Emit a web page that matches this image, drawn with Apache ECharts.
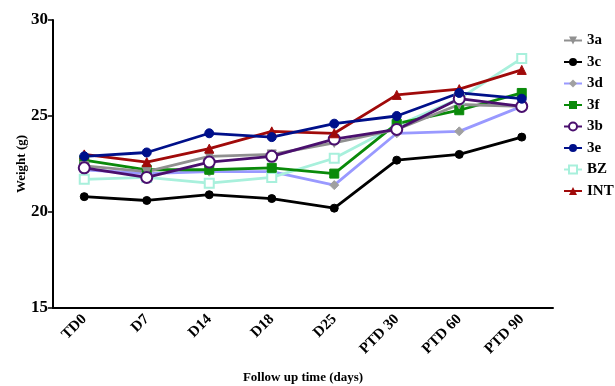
<!DOCTYPE html>
<html>
<head>
<meta charset="utf-8">
<script src="https://cdn.jsdelivr.net/npm/echarts@6/dist/echarts.min.js"></script>
<style>
  html, body { margin: 0; padding: 0; background: #fff; }
  #chart { width: 615px; height: 386px; }
</style>
</head>
<body>
<div id="chart"></div>
<script>
const days = ['TD0', 'D7', 'D14', 'D18', 'D25', 'PTD 30', 'PTD 60', 'PTD 90']
const yTicks = [15, 20, 25, 30]

const w3a = [22.4, 22.1, 22.9, 23.0, 23.6, 24.3, 25.6, 25.5]
const w3c = [20.8, 20.6, 20.9, 20.7, 20.2, 22.7, 23.0, 23.9]
const w3d = [22.2, 22.0, 22.1, 22.1, 21.4, 24.1, 24.2, 25.5]
const w3f = [22.7, 22.2, 22.2, 22.3, 22.0, 24.6, 25.3, 26.2]
const w3b = [22.3, 21.8, 22.6, 22.9, 23.8, 24.3, 25.9, 25.5]
const w3e = [22.9, 23.1, 24.1, 23.9, 24.6, 25.0, 26.2, 25.9]
const wBZ = [21.7, 21.8, 21.5, 21.8, 22.8, 24.5, 25.9, 28.0]
const wINT = [23.0, 22.6, 23.3, 24.2, 24.1, 26.1, 26.4, 27.4]

const font = 'Liberation Serif'

const chart = echarts.init(document.getElementById('chart'))

function line(name, data, color, symbol, size, extra) {
  return Object.assign({
    name: name,
    type: 'line',
    data: data,
    symbol: symbol,
    symbolSize: size,
    lineStyle: { color: color, width: 2.8 },
    itemStyle: { color: color, borderColor: color },
    z: 2
  }, extra || {})
}

chart.setOption({
  backgroundColor: '#fff',
  animation: false,
  textStyle: { fontFamily: font },
  legend: {
    orient: 'vertical',
    left: 558,
    top: 28,
    itemWidth: 18,
    itemHeight: 10,
    itemGap: 6.5,
    textStyle: { fontFamily: font, fontWeight: 'bold', fontSize: 15, color: '#000' },
    data: ['3a', '3c', '3d', '3f', '3b', '3e', 'BZ', 'INT']
  },
  grid: { left: 53, right: 62, top: 20, bottom: 78, containLabel: false, outerBoundsMode: 'none' },
  xAxis: {
    type: 'category',
    data: days,
    name: 'Follow up time (days)',
    nameLocation: 'middle',
    nameGap: 63,
    nameMoveOverlap: false,
    nameTextStyle: { fontFamily: font, fontWeight: 'bold', fontSize: 13, color: '#000' },
    axisLine: { lineStyle: { color: '#000', width: 2 } },
    axisTick: { alignWithLabel: true, length: 5, lineStyle: { color: '#000', width: 1.5 } },
    axisLabel: { rotate: 45, color: '#000', fontWeight: 'bold', fontSize: 15, fontFamily: font, margin: 9 }
  },
  yAxis: {
    type: 'value',
    min: yTicks[0],
    max: yTicks[yTicks.length - 1],
    interval: 5,
    name: 'Weight (g)',
    nameLocation: 'middle',
    nameGap: 25,
    nameMoveOverlap: false,
    nameTextStyle: { fontFamily: font, fontWeight: 'bold', fontSize: 13, color: '#000' },
    axisLine: { show: true, lineStyle: { color: '#000', width: 2 } },
    axisTick: { show: true, length: 5, lineStyle: { color: '#000', width: 1.5 } },
    axisLabel: { color: '#000', fontWeight: 'bold', fontSize: 17, fontFamily: font, margin: 5 },
    splitLine: { show: false }
  },
  series: [
    line('3c', w3c, '#000000', 'circle', 8),
    line('3d', w3d, '#9999ff', 'diamond', 9, { itemStyle: { color: '#a0a0a0', borderColor: '#a0a0a0' } }),
    line('BZ', wBZ, '#a8f0dc', 'emptyRect', 9, { itemStyle: { color: '#a8f0dc', borderColor: '#a8f0dc', borderWidth: 2 } }),
    line('3f', w3f, '#0a8a0a', 'rect', 9),
    line('3a', w3a, '#909090', 'triangle', 9, { symbolRotate: 180 }),
    line('3b', w3b, '#4a0f6e', 'emptyCircle', 11, { itemStyle: { color: '#4a0f6e', borderColor: '#4a0f6e', borderWidth: 2 } }),
    line('INT', wINT, '#a00a0a', 'triangle', 9),
    line('3e', w3e, '#00108a', 'circle', 9)
  ]
})
</script>
</body>
</html>
